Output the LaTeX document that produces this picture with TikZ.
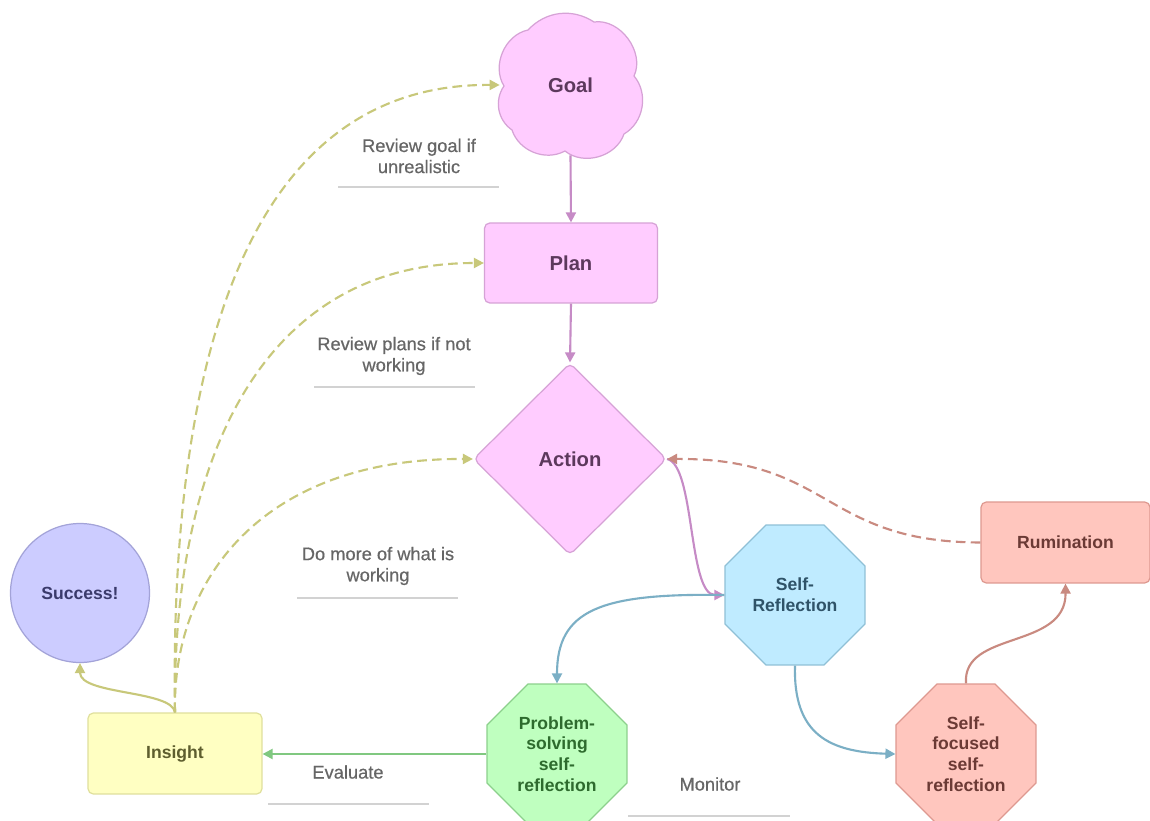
\documentclass[tikz,border=0pt]{standalone}
\usepackage{fontspec}
\setmainfont{Liberation Sans}
\newfontfamily\lblfont{Liberation Sans}[FakeBold=0.5]
\usetikzlibrary{arrows.meta,shapes.geometric}
\definecolor{pinkfill}{HTML}{FFCCFF}
\definecolor{pinkdraw}{HTML}{D6A2D6}
\definecolor{pinktext}{HTML}{5C385C}
\definecolor{bluefill}{HTML}{BFEBFF}
\definecolor{bluedraw}{HTML}{8FC0D6}
\definecolor{bluetext}{HTML}{2F5368}
\definecolor{redfill}{HTML}{FFC6BE}
\definecolor{reddraw}{HTML}{DE9990}
\definecolor{redtext}{HTML}{6B3A35}
\definecolor{greenfill}{HTML}{BFFFBF}
\definecolor{greendraw}{HTML}{8CD08C}
\definecolor{greentext}{HTML}{2E6B2E}
\definecolor{yellowfill}{HTML}{FFFFC2}
\definecolor{yellowdraw}{HTML}{E0E09C}
\definecolor{yellowtext}{HTML}{5E5E2E}
\definecolor{violetfill}{HTML}{CCCCFF}
\definecolor{violetdraw}{HTML}{A3A3D8}
\definecolor{violettext}{HTML}{3A3A6B}
\definecolor{epurple}{HTML}{C68BC6}
\definecolor{eolive}{HTML}{C8C87A}
\definecolor{esalmon}{HTML}{C98A80}
\definecolor{eblue}{HTML}{7BAFC5}
\definecolor{egreen}{HTML}{80C880}
\definecolor{lbltext}{HTML}{666666}
\definecolor{ulinecol}{HTML}{D2D2D2}
\begin{document}
\begin{tikzpicture}[x=0.02cm,y=-0.02cm,
  basenode/.style={draw, line width=0.7pt, align=center, inner sep=0pt},
  bigfont/.style={font=\fontsize{11.5}{14}\selectfont\bfseries},
  smallfont/.style={font=\fontsize{10}{11.8}\selectfont\bfseries},
  pinknode/.style={basenode, fill=pinkfill, draw=pinkdraw, text=pinktext, bigfont},
  bluenode/.style={basenode, fill=bluefill, draw=bluedraw, text=bluetext, smallfont},
  rednode/.style={basenode, fill=redfill, draw=reddraw, text=redtext, smallfont},
  greennode/.style={basenode, fill=greenfill, draw=greendraw, text=greentext, smallfont},
  yellownode/.style={basenode, fill=yellowfill, draw=yellowdraw, text=yellowtext, smallfont},
  violetnode/.style={basenode, fill=violetfill, draw=violetdraw, text=violettext, smallfont},
  boxshape/.style={rectangle, rounded corners=3pt},
  octshape/.style={regular polygon, regular polygon sides=8, minimum size=3.03cm},
  cloudline/.style={draw=pinkdraw, fill=pinkfill, line width=0.7pt},
  arr/.style={line width=1.2pt, -{Triangle[length=2mm,width=2mm]}},
  dashedarr/.style={arr, dash pattern=on 5.5pt off 3pt},
  lbl/.style={align=center, text=lbltext, font=\lblfont\fontsize{10.4}{12}\selectfont},
  uline/.style={draw=ulinecol, line width=0.8pt}
]
\useasboundingbox (0,0) rectangle (1150,821);
\fill[white] (0,0) rectangle (1150,821);

% cloud outline of the goal
\path[cloudline] (504,86) to[bend left=55] (528,30) to[bend left=40] (594,22)
  to[bend left=62] (634,76) to[bend left=50] (624,134) to[bend left=55] (565,151)
  to[bend left=50] (512,130) to[bend left=45] (504,86) -- cycle;

% nodes
\node[inner sep=0pt, minimum width=2.82cm, minimum height=2.8cm, text=pinktext, bigfont] (goal) at (570.5,85) {Goal};
\node[pinknode, boxshape, minimum width=3.46cm, minimum height=1.6cm] (plan) at (571,263) {Plan};
\node[pinknode, diamond, rounded corners=3pt, minimum width=3.86cm, minimum height=3.84cm] (action) at (570,459) {Action};
\node[bluenode, octshape] (selfref) at (795,595) {Self-\\Reflection};
\node[rednode, boxshape, minimum width=3.38cm, minimum height=1.62cm] (rum) at (1065.5,542.5) {Rumination};
\node[rednode, octshape] (sfocus) at (966,754) {Self-\\focused\\self-\\reflection};
\node[greennode, octshape] (ps) at (557,754) {Problem-\\solving\\self-\\reflection};
\node[violetnode, circle, minimum size=2.78cm] (succ) at (80,593) {Success!};
\node[yellownode, boxshape, minimum width=3.48cm, minimum height=1.62cm] (ins) at (175,753.5) {Insight};

% labels
\node[lbl] (lgoal) at (419,156) {Review goal if\\unrealistic};
\draw[uline] (338,187) -- (499,187);
\node[lbl] (lplan) at (394,356) {Review plans if not\\working};
\draw[uline] (314,387) -- (475,387);
\node[lbl] (lact) at (378,566) {Do more of what is\\working};
\draw[uline] (297,598) -- (458,598);
\node[lbl] (leval) at (348,772) {Evaluate};
\draw[uline] (268,804) -- (429,804);
\node[lbl] (lmon) at (710,784) {Monitor};
\draw[uline] (628,816) -- (790,816);

% connectors
\draw[arr, epurple] (goal.south) -- (plan.north);
\draw[arr, epurple] (plan.south) -- (action.north);
\draw[arr, epurple] (action.east) .. controls (695,465) and (688,595) .. (selfref.west);
\draw[dashedarr, esalmon] (rum.west) .. controls (822,542) and (832,458) .. (action.east);
\draw[arr, eblue] (selfref.west) .. controls (600,593) and (557,610) .. (ps.north);
\draw[arr, eblue] (selfref.south) .. controls (793,735) and (830,752) .. (sfocus.west);
\draw[arr, esalmon] (sfocus.north) .. controls (962,630) and (1066,650) .. (rum.south);
\draw[arr, egreen] (ps.west) -- (ps.west -| ins.east);
\draw[arr, eolive] (ins.north) .. controls (172,690) and (80,695) .. (succ.south);
\draw[dashedarr, eolive] (ins.north) .. controls (170,400) and (230,83) .. (goal.west);
\draw[dashedarr, eolive] (ins.north) .. controls (172,480) and (250,263) .. (plan.west);
\draw[dashedarr, eolive] (ins.north) .. controls (172,580) and (262,458) .. (action.west);
\end{tikzpicture}
\end{document}
